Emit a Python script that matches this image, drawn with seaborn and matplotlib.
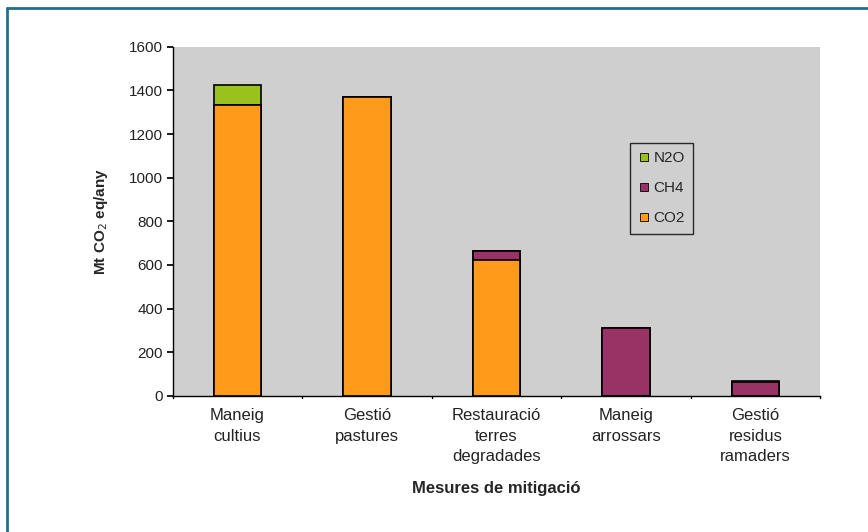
import matplotlib
matplotlib.use("Agg")
import matplotlib.pyplot as plt
import seaborn as sns
import pandas as pd
import numpy as np
from matplotlib.lines import Line2D

categories = ["Maneig\ncultius", "Gestió\npastures", "Restauració\nterres\ndegradades",
              "Maneig\narrossars", "Gestió\nresidus\nramaders"]
co2 = [1335, 1370, 622, 0, 0]
ch4 = [0, 0, 43, 310, 62]
n2o = [90, 0, 0, 0, 8]
series = ["N2O", "CH4", "CO2"]
colors = {"CO2": "#FF9A1A", "CH4": "#993366", "N2O": "#99C21A"}

sns.set_theme(style="white")
plt.rcParams['font.family'] = ['Liberation Sans', 'DejaVu Sans']

fig = plt.figure(figsize=(8.68, 5.32), dpi=100)
ax = fig.add_axes([0.199, 0.256, 0.746, 0.656])
ax.set_facecolor("#cfcfcf")

df = pd.DataFrame({"cat": categories, "CO2": co2, "CH4": ch4, "N2O": n2o})
totals_co2 = df["CO2"]
totals_ch4 = df["CO2"] + df["CH4"]
totals_n2o = totals_ch4 + df["N2O"]

w = 0.37
for col, tot in [("N2O", totals_n2o), ("CH4", totals_ch4), ("CO2", totals_co2)]:
    d = pd.DataFrame({"cat": categories, "v": tot})
    sns.barplot(data=d, x="cat", y="v", color=colors[col], width=w, ax=ax,
                edgecolor="black", linewidth=1.2, saturation=1, order=categories)

ax.set_ylim(0, 1600)
ax.set_xlim(-0.5, 4.5)
ax.set_yticks(range(0, 1601, 200))
ax.tick_params(axis="y", labelsize=11, length=4, direction="out", left=True, pad=3, colors="black")
ax.tick_params(axis="x", labelsize=12, length=0, pad=9)
for t in ax.get_yticklabels() + ax.get_xticklabels():
    t.set_color("#222222")
for t in ax.get_xticklabels():
    t.set_linespacing(1.45)
# category boundary ticks on x axis
for xb in np.arange(-0.5, 5.0, 1.0):
    ax.plot([xb, xb], [0, -12], color="black", lw=1, clip_on=False)

for s in ["top", "right"]:
    ax.spines[s].set_visible(False)
for s in ["left", "bottom"]:
    ax.spines[s].set_color("black")
    ax.spines[s].set_linewidth(1)

ax.set_xlabel("Mesures de mitigació", fontsize=12, fontweight="bold", labelpad=12)
ax.set_ylabel("Mt CO$_2$ eq/any", fontsize=11, fontweight="bold", labelpad=14)

handles = [Line2D([0], [0], marker="s", linestyle="", markersize=6,
                  markerfacecolor=colors[s], markeredgecolor="black", markeredgewidth=0.6)
           for s in series]
leg = ax.legend(handles, series, loc="upper left", bbox_to_anchor=(0.706, 0.725),
                borderaxespad=0, frameon=True, fontsize=11, handlelength=0.7,
                handletextpad=0.3, labelspacing=1.05, borderpad=0.55, fancybox=False)
leg.get_frame().set_edgecolor("black")
leg.get_frame().set_facecolor("#cfcfcf")
leg.get_frame().set_linewidth(1)

# figure frame lines (top and left)
fig.add_artist(Line2D([7/868, 1], [1 - 8/532, 1 - 8/532], color="#1f6f8b", lw=2,
                      transform=fig.transFigure))
fig.add_artist(Line2D([7/868, 7/868], [0, 1 - 8/532], color="#1f6f8b", lw=2,
                      transform=fig.transFigure))

fig.savefig("out.png", dpi=100)
